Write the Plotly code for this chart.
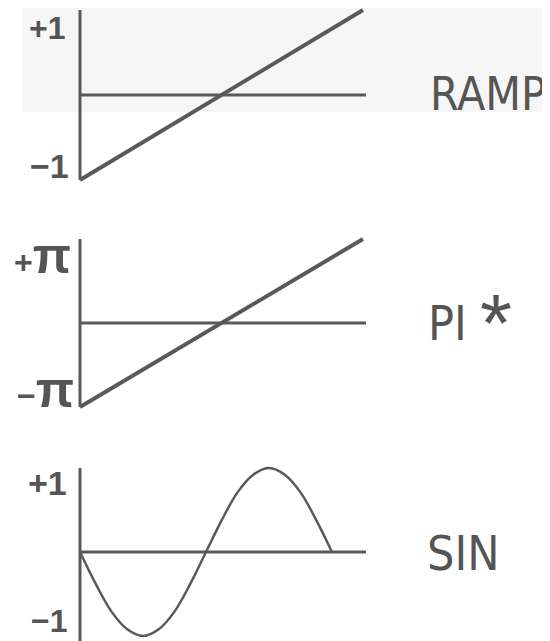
import math
import plotly.graph_objects as go

# data
ramp_x = [0, 1]
ramp_y = [-1, 1]
pi_x = [0, 1]
pi_y = [-math.pi, math.pi]
sin_deg = [0, 22.5, 45, 67.5, 90, 112.5, 135, 157.5, 180,
           202.5, 225, 247.5, 270, 292.5, 315, 337.5, 360]
sin_y = [0, -0.38, -0.71, -0.92, -1, -0.92, -0.71, -0.38, 0,
         0.38, 0.71, 0.92, 1, 0.92, 0.71, 0.38, 0]
names = ["RAMP", "PI", "SIN"]

LINE = "#595959"
TXT = "#555555"
FONT = "DejaVu Sans Condensed, Liberation Sans, Arial, sans-serif"
BFONT = "Liberation Sans, Arial, sans-serif"

# page body has an 8px margin, so the figure starts 8px in
OFF = 8
PW, PH = 550, 641
W, H = PW - OFF, PH - OFF


def fx(px):
    return (px - OFF) / W


def fy(py):
    return 1 - (py - OFF) / H


# pixel layout per panel: top, bottom, zero line, px per y unit, px per x unit
ax0 = 80
zero_end = 366
panels = [
    dict(top=OFF, bot=205, zero=95, ypx=85 / 1.0, xpx=283),
    dict(top=212, bot=430, zero=323, ypx=84 / math.pi, xpx=283),
    dict(top=440, bot=PH, zero=552, ypx=84 / 1.0, xpx=252 / 360),
]

fig = go.Figure()

series = [(ramp_x, ramp_y, 4), (pi_x, pi_y, 4), (sin_deg, sin_y, 2.5)]
yspans = [(-1, 1), (-math.pi, math.pi), (-1.2, 1)]

for i, (p, (xs, ys, lw), ysp) in enumerate(zip(panels, series, yspans)):
    n = "" if i == 0 else str(i + 1)
    xa, ya = "x" + n, "y" + n
    # vertical axis
    fig.add_trace(go.Scatter(x=[0, 0], y=list(ysp), mode="lines",
                             line=dict(color=LINE, width=3),
                             xaxis=xa, yaxis=ya, hoverinfo="skip"))
    # zero line
    fig.add_trace(go.Scatter(x=[0, (zero_end - ax0) / p["xpx"]], y=[0, 0], mode="lines",
                             line=dict(color=LINE, width=3),
                             xaxis=xa, yaxis=ya, hoverinfo="skip"))
    # the signal
    fig.add_trace(go.Scatter(x=xs, y=ys, mode="lines",
                             line=dict(color=LINE, width=lw, shape="spline" if i == 2 else "linear"),
                             xaxis=xa, yaxis=ya, name=names[i]))
    xr = [-(ax0 - OFF) / p["xpx"], (PW - ax0) / p["xpx"]]
    yr = [-(p["bot"] - p["zero"]) / p["ypx"], (p["zero"] - p["top"]) / p["ypx"]]
    common = dict(visible=False, fixedrange=True)
    fig.layout["xaxis" + n] = dict(range=xr, domain=[0, 1], anchor=ya, **common)
    fig.layout["yaxis" + n] = dict(range=yr, domain=[fy(p["bot"]), fy(p["top"])],
                                   anchor=xa, **common)


def lab(text, px, py, size, fam=FONT, bold=False, va="middle"):
    t = "<b>" + text + "</b>" if bold else text
    fig.add_annotation(text=t, x=fx(px), y=fy(py), xref="paper", yref="paper",
                       xanchor="center", yanchor=va, showarrow=False,
                       font=dict(family=fam, size=size, color=TXT))


# axis labels
lab("+1", 47, OFF, 32, BFONT, True, "top")
lab("\u22121", 49, 166, 34, BFONT, True)
lab("+<span style='font-size:50px'>\u03c0</span>", 42, 256, 32, BFONT, True)
lab("\u2212<span style='font-size:50px'>\u03c0</span>", 45, 390, 32, BFONT, True)
lab("+1", 47, 483, 34, BFONT, True)
lab("\u22121", 49, PH, 32, BFONT, True, "bottom")

# panel names
lab("RAMP", 488, 94, 46)
lab("PI", 447, 323, 48)
lab("*", 496, 322, 82, BFONT)
lab("SIN", 463, 553, 48)

# faint scan tone behind the first panel
fig.add_shape(type="rect", xref="paper", yref="paper", x0=fx(22), x1=1,
              y0=fy(112), y1=1, fillcolor="#f6f6f6", line=dict(width=0), layer="below")

fig.update_layout(width=W, height=H, margin=dict(l=0, r=0, t=0, b=0),
                  paper_bgcolor="white", plot_bgcolor="rgba(0,0,0,0)",
                  showlegend=False)

fig.write_html("out.html")
